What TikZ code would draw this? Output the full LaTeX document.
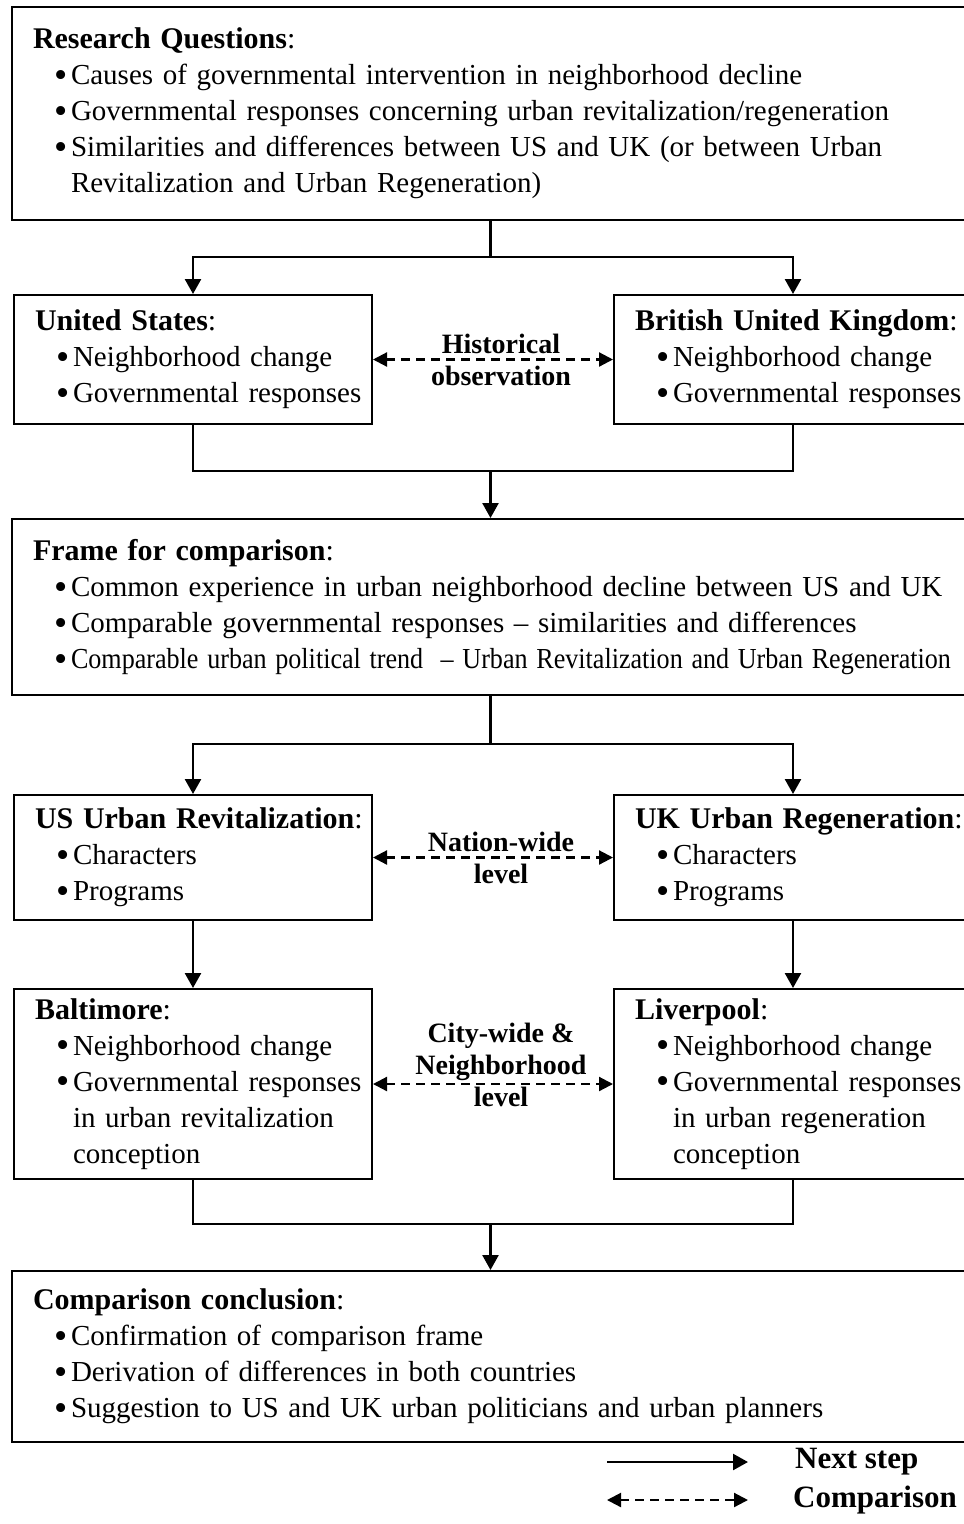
\documentclass[tikz,border=0pt]{standalone}
\usepackage{graphicx}
\usepackage{fontspec}
\setmainfont{Liberation Serif}
\usepackage{tikz}
\usetikzlibrary{arrows.meta, positioning, calc}
\newcommand{\hd}[1]{\mbox{\fontsize{30}{36}\selectfont\textbf{#1}:}}
\newcommand{\bl}[1]{\mbox{\hspace*{21pt}\makebox[17pt][l]{\raisebox{-0.09em}{\scalebox{1.3}{\textbullet}}}#1}}
\newcommand{\cn}[1]{\mbox{\hspace*{38pt}#1}}
\tikzset{
  bigbox/.style={
    rectangle, draw=black, line width=2pt, minimum width=957pt,
    text width=915pt, inner xsep=21pt, inner ysep=0pt, align=left,
    font=\fontsize{29}{36}\selectfont
  },
  sidebox/.style={bigbox, minimum width=358pt, text width=316pt},
  flowline/.style={line width=2.5pt},
  nextstep/.style={-{Triangle[length=15pt,width=16pt]}, line width=2.5pt},
  compare/.style={{Triangle[length=14pt,width=14pt]}-{Triangle[length=14pt,width=14pt]},
    line width=2.2pt, dash pattern=on 9pt off 6pt},
  midlabel/.style={align=center, inner sep=0pt, font=\bfseries\fontsize{28}{32}\selectfont},
  legendtxt/.style={inner sep=0pt, font=\bfseries\fontsize{31}{36}\selectfont},
}
\begin{document}
\begin{tikzpicture}[x=1pt, y=-1pt]
  \useasboundingbox (0,0) rectangle (964,1524);
  \node[bigbox, minimum height=213pt, anchor=north west] (rq) at (11,6) {\hd{Research Questions}\\
    \bl{Causes of governmental intervention in neighborhood decline}\\
    \bl{Governmental responses concerning urban revitalization/regeneration}\\
    \bl{Similarities and differences between US and UK (or between Urban}\\
    \cn{Revitalization and Urban Regeneration)}};
  \node[sidebox, minimum height=129pt, below right=73pt and 2pt of rq.south west] (us) {\hd{United States}\\
    \bl{Neighborhood change}\\
    \bl{Governmental responses}};
  \node[sidebox, minimum height=129pt, right=240pt of us] (uk) {\hd{British United Kingdom}\\
    \bl{Neighborhood change}\\
    \bl{Governmental responses}};
  \node[bigbox, minimum height=176pt, below=297pt of rq] (frame) {\hd{Frame for comparison}\\
    \bl{Common experience in urban neighborhood decline between US and UK}\\
    \bl{Comparable governmental responses -- similarities and differences}\\
    \bl{\scalebox{0.9}[1]{Comparable urban political trend \ -- Urban Revitalization and Urban Regeneration}}};
  \node[sidebox, minimum height=125pt, below right=98pt and 2pt of frame.south west] (usr) {\hd{US Urban Revitalization}\\
    \bl{Characters}\\
    \bl{Programs}};
  \node[sidebox, minimum height=125pt, right=240pt of usr] (ukr) {\hd{UK Urban Regeneration}\\
    \bl{Characters}\\
    \bl{Programs}};
  \node[sidebox, minimum height=190pt, below=67pt of usr] (balt) {\hd{Baltimore}\\
    \bl{Neighborhood change}\\
    \bl{Governmental responses}\\
    \cn{in urban revitalization}\\
    \cn{conception}};
  \node[sidebox, minimum height=190pt, below=67pt of ukr] (liver) {\hd{Liverpool}\\
    \bl{Neighborhood change}\\
    \bl{Governmental responses}\\
    \cn{in urban regeneration}\\
    \cn{conception}};
  \node[bigbox, minimum height=171pt, below=574pt of frame] (concl) {\hd{Comparison conclusion}\\
    \bl{Confirmation of comparison frame}\\
    \bl{Derivation of differences in both countries}\\
    \bl{Suggestion to US and UK urban politicians and urban planners}};

  % split and join points
  \coordinate (split1) at ($(rq.south)+(0,36)$);
  \coordinate (join1) at ($(frame.north)+(0,-47)$);
  \coordinate (split2) at ($(frame.south)+(0,48)$);
  \coordinate (join2) at ($(concl.north)+(0,-46)$);

  \draw[flowline] (rq.south) -- (split1);
  \draw[nextstep] (split1) -| (us.north);
  \draw[nextstep] (split1) -| (uk.north);
  \draw[flowline] (us.south) |- (join1);
  \draw[flowline] (uk.south) |- (join1);
  \draw[nextstep] (join1) -- (frame.north);

  \draw[flowline] (frame.south) -- (split2);
  \draw[nextstep] (split2) -| (usr.north);
  \draw[nextstep] (split2) -| (ukr.north);
  \draw[nextstep] (usr) -- (balt);
  \draw[nextstep] (ukr) -- (liver);
  \draw[flowline] (balt.south) |- (join2);
  \draw[flowline] (liver.south) |- (join2);
  \draw[nextstep] (join2) -- (concl.north);

  % comparisons
  \draw[compare] (us) -- node[midlabel, xshift=8pt] (hist) {Historical\\observation} (uk);
  \draw[compare] (usr) -- node[midlabel, xshift=8pt] (nation) {Nation-wide\\level} (ukr);
  \draw[compare] (balt) -- node[midlabel, xshift=8pt, yshift=19pt] (city) {City-wide \&\\Neighborhood\\level} (liver);

  % legend
  \coordinate (leg1) at (607,1462);
  \coordinate (leg1end) at (748,1462);
  \coordinate (leg2) at (607,1500);
  \coordinate (leg2end) at (748,1500);
  \draw[nextstep] (leg1) -- (leg1end);
  \draw[compare] (leg2) -- (leg2end);
  \node[legendtxt, right=47pt of leg1end] (nextlbl) {Next step};
  \node[legendtxt, right=45pt of leg2end] (cmplbl) {Comparison};
\end{tikzpicture}
\end{document}
